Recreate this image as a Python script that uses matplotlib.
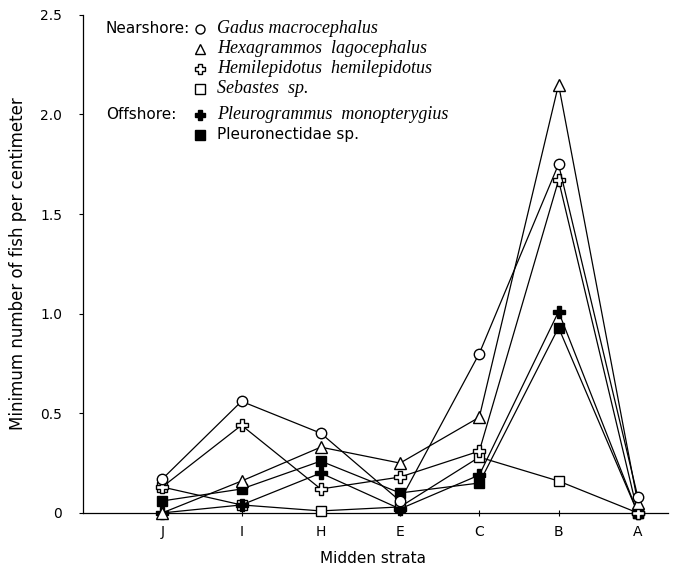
import matplotlib
matplotlib.use("Agg")
import matplotlib.pyplot as plt
import numpy as np

# midden strata, oldest (J) to youngest (A)
strata = ['J', 'I', 'H', 'E', 'C', 'B', 'A']

gadus = [0.17, 0.56, 0.40, 0.06, 0.80, 1.75, 0.08]
hexagrammos = [0.00, 0.16, 0.33, 0.25, 0.48, 2.15, 0.05]
hemilepidotus = [0.13, 0.44, 0.12, 0.18, 0.31, 1.67, 0.00]
sebastes = [0.13, 0.04, 0.01, 0.03, 0.28, 0.16, 0.00]
pleurogrammus = [0.00, 0.04, 0.20, 0.02, 0.19, 1.01, 0.00]
pleuronectidae = [0.06, 0.12, 0.26, 0.10, 0.15, 0.93, 0.00]

plt.rcParams['font.family'] = ['DejaVu Sans']

fig = plt.figure(figsize=(6.77, 5.68), dpi=100)
ax = fig.add_axes([0.1226, 0.097, 0.864, 0.877])

x = np.arange(len(strata))
lw = 0.9
ms = 7.5

# (values, marker, facecolor, size)
series = [
    (sebastes, 's', 'white', ms),
    (pleuronectidae, 's', 'black', ms),
    (pleurogrammus, 'P', 'black', ms + 1),
    (hemilepidotus, 'P', 'white', ms + 1),
    (hexagrammos, '^', 'white', ms + 1.5),
    (gadus, 'o', 'white', ms),
]
for vals, mk, fc, sz in series:
    ax.plot(x, vals, color='black', lw=lw, marker=mk, markersize=sz,
            markerfacecolor=fc, markeredgecolor='black', markeredgewidth=1.0,
            clip_on=False, zorder=3)

ax.set_xlim(-1.0, 6.38)
ax.set_ylim(0, 2.5)
ax.set_xticks(x)
ax.set_xticklabels(strata)
ax.set_yticks([0, 0.5, 1.0, 1.5, 2.0, 2.5])
ax.set_yticklabels(['0', '0.5', '1.0', '1.5', '2.0', '2.5'])
ax.tick_params(axis='x', direction='inout', length=5, width=0.8, pad=6, labelsize=10)
ax.tick_params(axis='y', direction='out', length=3, width=0.8, pad=12, labelsize=10)
ax.spines['top'].set_visible(False)
ax.spines['right'].set_visible(False)
ax.spines['left'].set_linewidth(0.9)
ax.spines['bottom'].set_linewidth(0.9)

ax.set_xlabel('Midden strata', fontsize=11)
ax.xaxis.set_label_coords(0.496, -0.076)
ax.set_ylabel('Minimum number of fish per centimeter', fontsize=12)
ax.yaxis.set_label_coords(-0.096, 0.5)

# hand-made legend block at top left
leg = [
    ('Nearshore:', 'o', 'white', 'Gadus macrocephalus', True),
    ('', '^', 'white', 'Hexagrammos  lagocephalus', True),
    ('', 'P', 'white', 'Hemilepidotus  hemilepidotus', True),
    ('', 's', 'white', 'Sebastes  sp.', True),
    ('Offshore:', 'P', 'black', 'Pleurogrammus  monopterygius', True),
    ('', 's', 'black', 'Pleuronectidae sp.', False),
]
ys = [0.972, 0.932, 0.892, 0.851, 0.799, 0.759]
for (grp, mk, fc, name, ital), yy in zip(leg, ys):
    if grp:
        ax.text(0.039, yy, grp, transform=ax.transAxes, fontsize=11,
                va='center', ha='left')
    ax.plot([0.2], [yy], transform=ax.transAxes, marker=mk, markersize=6.5,
            markerfacecolor=fc, markeredgecolor='black', markeredgewidth=1.0,
            linestyle='none', clip_on=False)
    if ital:
        ax.text(0.229, yy, name, transform=ax.transAxes, fontsize=13,
                family='Liberation Serif', style='italic', va='center', ha='left')
    else:
        ax.text(0.229, yy, name, transform=ax.transAxes, fontsize=11,
                va='center', ha='left')

fig.savefig('out.png', dpi=100)
